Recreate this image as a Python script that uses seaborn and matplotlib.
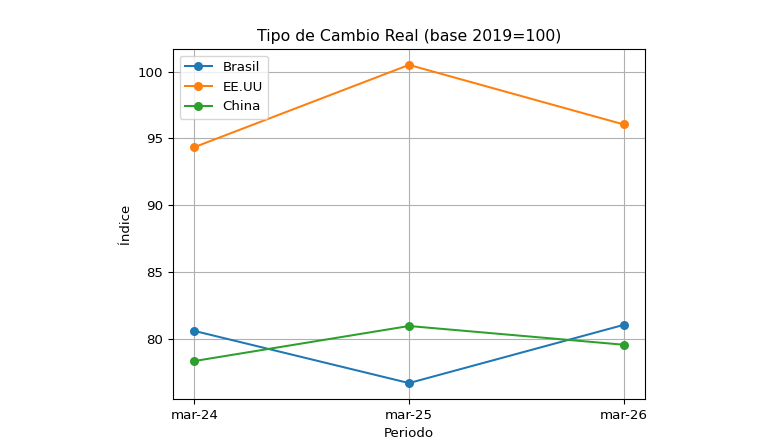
import pandas as pd
import matplotlib
matplotlib.use('Agg')
import matplotlib.pyplot as plt
import seaborn as sns

# Data
periodos = ['mar-24', 'mar-25', 'mar-26']
brasil = [80.6, 76.7, 81.05]
eeuu = [94.35, 100.5, 96.05]
china = [78.35, 80.97, 79.57]
paises = ['Brasil', 'EE.UU', 'China']
colores = ['#1f77b4', '#ff7f0e', '#2ca02c']

df = pd.DataFrame({
    'Periodo': periodos * 3,
    'Indice': brasil + eeuu + china,
    'Pais': [p for p in paises for _ in periodos],
})

fig = plt.figure(figsize=(7.8, 4.47), dpi=100)
ax = fig.add_axes([0.2218, 0.1074, 0.6051, 0.783])

sns.lineplot(data=df, x='Periodo', y='Indice', hue='Pais', palette=colores,
             marker='o', markersize=6.5, markeredgewidth=0, linewidth=1.45,
             sort=False, ax=ax)

ax.set_title('Tipo de Cambio Real (base 2019=100)', fontsize=11.3)
ax.set_xlabel('Periodo', fontsize=9.6)
ax.set_ylabel('Índice', fontsize=9.6)
ax.tick_params(labelsize=9.6)
ax.grid(True, color='#b0b0b0', linewidth=0.8)
ax.margins(x=0.05, y=0.05)
ax.legend(title=None, loc='upper left', fontsize=9.6)

fig.savefig('out.png', dpi=100)
